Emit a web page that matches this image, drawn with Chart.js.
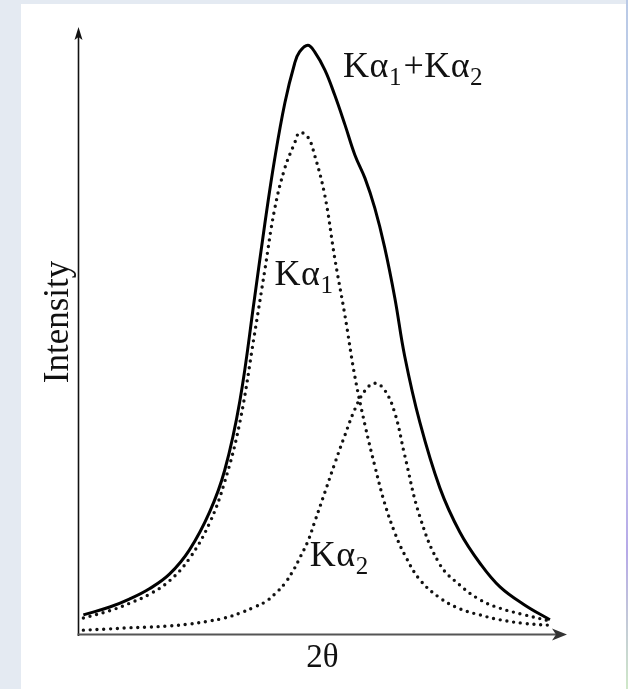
<!DOCTYPE html>
<html>
<head>
<meta charset="utf-8">
<script src="https://cdn.jsdelivr.net/npm/chart.js@4"></script>
<style>
  html, body { margin: 0; padding: 0; background: #e4eaf2; }
  #wrap { width: 628px; height: 689px; position: relative; }
  canvas { display: block; }
</style>
</head>
<body>
<div id="wrap"><canvas id="c" width="628" height="689"></canvas></div>
<script>
// 2θ positions (arbitrary units, 0–100 across the axis)
const twoTheta = [1.1, 6.5, 10.5, 14.6, 18.7, 22.8, 26.9, 30.0, 33.1, 36.1, 38.2, 40.2, 42.3, 44.3, 45.3, 47.0, 48.4, 50.5, 52.5, 54.6, 56.6, 58.7, 60.7, 62.7, 64.8, 66.8, 69.9, 74.0, 78.1, 82.2, 86.3, 91.4, 96.5];
// Intensity (arbitrary units, 0–100 up the axis)
const sumKa = [3.3, 4.6, 5.9, 7.6, 10.0, 14.0, 20.2, 27.1, 38.5, 55.4, 67.6, 78.2, 87.5, 94.0, 95.9, 97.0, 95.9, 92.9, 88.8, 83.9, 79.0, 75.1, 70.2, 63.8, 55.4, 45.9, 35.0, 24.2, 16.9, 11.8, 7.9, 4.9, 2.5];
const ka1 = [2.8, 4.0, 5.2, 6.7, 8.9, 12.6, 18.4, 25.2, 35.0, 49.5, 60.0, 70.0, 76.8, 80.9, 82.6, 81.9, 78.9, 72.2, 62.0, 52.5, 42.6, 34.5, 27.8, 21.7, 16.8, 13.2, 9.1, 6.1, 4.3, 3.3, 2.5, 1.9, 1.6];
const ka2 = [0.8, 1.0, 1.2, 1.3, 1.5, 1.8, 2.3, 2.8, 3.6, 4.6, 5.4, 6.7, 8.5, 11.0, 12.6, 15.4, 18.6, 23.5, 28.2, 32.9, 37.1, 40.2, 41.4, 40.3, 36.5, 29.6, 19.5, 11.6, 8.2, 5.8, 4.4, 3.3, 2.3];

const seriesNames = ['Kα1+Kα2', 'Kα1', 'Kα2'];
const axisTitles = { x: '2θ', y: 'Intensity' };

const toPts = (ys) => twoTheta.map((x, i) => ({ x: x, y: ys[i] }));

const FONT = '"Liberation Serif", "Times New Roman", serif';

// Curve labels: main text + subscripts, anchored in data coordinates
const curveLabels = [
  { parts: [['K', 0], ['α', 0], ['1', 1], ['+', 0], ['K', 0], ['α', 0], ['2', 1]], x: 54.2, y: 91.8 },
  { parts: [['K', 0], ['α', 0], ['1', 1]], x: 40.2, y: 57.6 },
  { parts: [['K', 0], ['α', 0], ['2', 1]], x: 47.4, y: 11.3 }
];

const decor = {
  id: 'decor',
  beforeDraw(chart) {
    const ctx = chart.ctx;
    ctx.save();
    ctx.fillStyle = '#e4eaf2';
    ctx.fillRect(0, 0, 628, 689);
    ctx.fillStyle = '#ffffff';
    ctx.fillRect(21, 4, 605, 685);
    const g = ctx.createLinearGradient(0, 0, 0, 689);
    g.addColorStop(0, '#b9c9e6');
    g.addColorStop(0.5, '#c9d6ee');
    g.addColorStop(0.8, '#b6a9e8');
    g.addColorStop(1, '#cfe8c8');
    ctx.fillStyle = g;
    ctx.fillRect(626, 0, 2, 689);
    ctx.restore();
  },
  afterDraw(chart) {
    const ctx = chart.ctx;
    const xs = chart.scales.x, ys = chart.scales.y;
    const a = chart.chartArea;
    const x0 = a.left + 0.5, yb = a.bottom;
    ctx.save();
    // y axis
    ctx.strokeStyle = '#111';
    ctx.lineWidth = 1.6;
    ctx.beginPath();
    ctx.moveTo(x0, yb + 1);
    ctx.lineTo(x0, a.top + 6);
    ctx.stroke();
    ctx.fillStyle = '#111';
    ctx.beginPath();
    ctx.moveTo(x0, a.top);
    ctx.lineTo(x0 + 4, a.top + 13);
    ctx.lineTo(x0, a.top + 10);
    ctx.lineTo(x0 - 4, a.top + 13);
    ctx.closePath();
    ctx.fill();
    // x axis
    ctx.strokeStyle = '#555';
    ctx.lineWidth = 2.2;
    ctx.beginPath();
    ctx.moveTo(x0 - 1, yb - 0.5);
    ctx.lineTo(a.right - 6, yb - 0.5);
    ctx.stroke();
    ctx.fillStyle = '#333';
    ctx.beginPath();
    ctx.moveTo(a.right, yb - 0.5);
    ctx.lineTo(a.right - 15, yb - 6.5);
    ctx.lineTo(a.right - 11, yb - 0.5);
    ctx.lineTo(a.right - 15, yb + 5.5);
    ctx.closePath();
    ctx.fill();

    // axis titles
    ctx.fillStyle = '#111';
    ctx.font = '33px ' + FONT;
    ctx.textAlign = 'center';
    ctx.textBaseline = 'alphabetic';
    ctx.fillText(axisTitles.x, (a.left + a.right) / 2, 667);
    ctx.save();
    ctx.translate(68, 322);
    ctx.rotate(-Math.PI / 2);
    ctx.font = '35px ' + FONT;
    ctx.fillText(axisTitles.y, 0, 0);
    ctx.restore();

    // curve labels
    ctx.textAlign = 'left';
    curveLabels.forEach(l => {
      let px = xs.getPixelForValue(l.x);
      const py = ys.getPixelForValue(l.y);
      l.parts.forEach(([t, sub]) => {
        ctx.font = (sub ? '25px ' : '36px ') + FONT;
        ctx.fillText(t, px, py + (sub ? 8 : 0));
        px += ctx.measureText(t).width + (sub ? 2 : 0.5);
      });
    });
    ctx.restore();
  }
};

const dotted = {
  borderColor: '#111',
  borderWidth: 3.4,
  borderDash: [0, 6.8],
  borderCapStyle: 'round',
  pointRadius: 0,
  showLine: true,
  fill: false,
  tension: 0.4,
  clip: false
};

new Chart(document.getElementById('c'), {
  type: 'scatter',
  data: {
    datasets: [
      { label: seriesNames[0], data: toPts(sumKa), borderColor: '#000', borderWidth: 3, pointRadius: 0, showLine: true, fill: false, tension: 0.4, clip: false },
      Object.assign({ label: seriesNames[1], data: toPts(ka1) }, dotted),
      Object.assign({ label: seriesNames[2], data: toPts(ka2) }, dotted)
    ]
  },
  options: {
    responsive: false,
    animation: false,
    devicePixelRatio: 1,
    layout: { padding: { left: 78, top: 27, right: 61, bottom: 54 } },
    scales: {
      x: { type: 'linear', min: 0, max: 100, display: false },
      y: { type: 'linear', min: 0, max: 100, display: false }
    },
    plugins: { legend: { display: false }, tooltip: { enabled: false } }
  },
  plugins: [decor]
});
</script>
</body>
</html>
